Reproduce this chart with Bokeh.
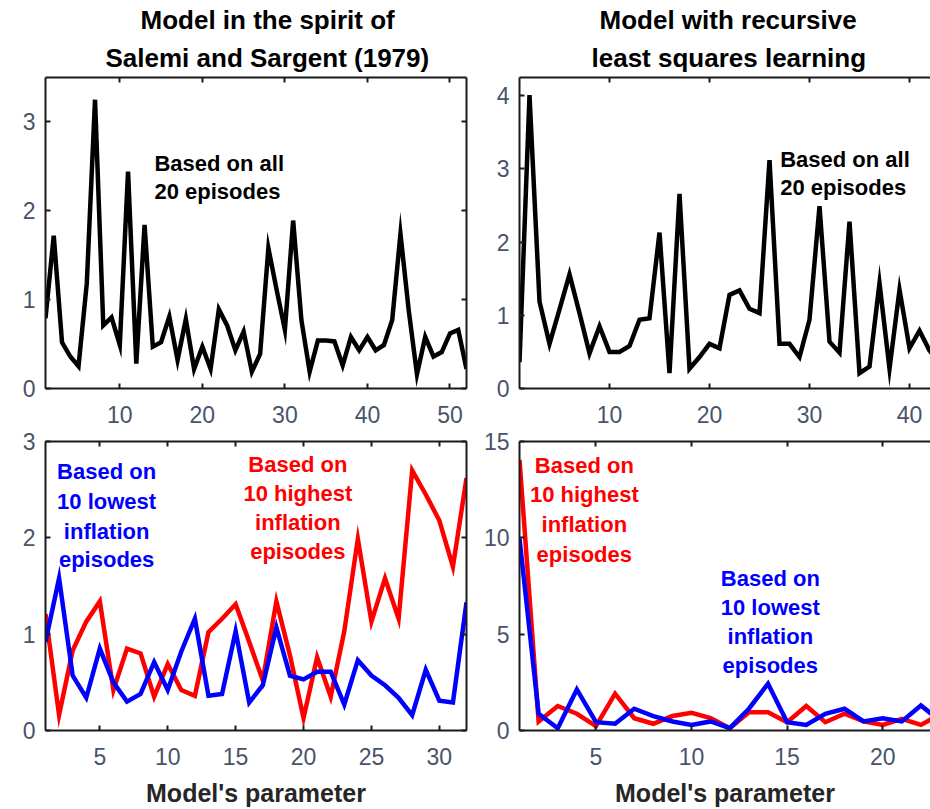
from bokeh.plotting import figure
from bokeh.layouts import column, row
from bokeh.models import Label, LinearAxis, FixedTicker, Range1d, CustomLabelingPolicy, Title
from bokeh.embed import file_html
from bokeh.resources import INLINE

# ---------------- data ----------------
tl_x = list(range(1, 53))
tl_all = [0.79, 1.72, 0.52, 0.36, 0.25, 1.18, 3.25, 0.71, 0.80, 0.49,
          2.44, 0.28, 1.84, 0.47, 0.52, 0.81, 0.32, 0.78, 0.22, 0.47,
          0.22, 0.89, 0.71, 0.43, 0.64, 0.19, 0.39, 1.58, 1.11, 0.66,
          1.89, 0.77, 0.19, 0.54, 0.54, 0.53, 0.26, 0.58, 0.43, 0.58,
          0.43, 0.49, 0.77, 1.74, 0.88, 0.16, 0.58, 0.36, 0.41, 0.62,
          0.66, 0.22]

tr_x = list(range(1, 44))
tr_all = [0.36, 4.01, 1.19, 0.61, 1.08, 1.56, 1.03, 0.48, 0.85, 0.50,
          0.50, 0.58, 0.94, 0.96, 2.13, 0.21, 2.66, 0.27, 0.43, 0.61,
          0.55, 1.28, 1.34, 1.09, 1.03, 3.12, 0.61, 0.61, 0.43, 0.94,
          2.49, 0.64, 0.49, 2.28, 0.21, 0.30, 1.44, 0.27, 1.35, 0.55,
          0.79, 0.52, 0.35]

bl_x = list(range(1, 33))
bl_high = [1.21, 0.16, 0.83, 1.13, 1.34, 0.42, 0.85, 0.80, 0.35, 0.69,
           0.42, 0.36, 1.02, 1.16, 1.31, 0.92, 0.52, 1.34, 0.78, 0.13,
           0.76, 0.35, 1.03, 1.99, 1.13, 1.58, 1.16, 2.70, 2.45, 2.18,
           1.70, 2.62]
bl_low = [0.92, 1.58, 0.57, 0.34, 0.85, 0.50, 0.30, 0.38, 0.71, 0.42,
          0.82, 1.16, 0.36, 0.38, 1.03, 0.29, 0.47, 1.07, 0.57, 0.53,
          0.61, 0.61, 0.27, 0.73, 0.57, 0.47, 0.34, 0.16, 0.63, 0.31,
          0.29, 1.33]

br_x = list(range(1, 24))
br_high = [14.05, 0.47, 1.27, 0.87, 0.23, 1.91, 0.64, 0.35, 0.75, 0.92,
           0.64, 0.12, 0.95, 0.95, 0.43, 1.27, 0.43, 0.87, 0.47, 0.29,
           0.61, 0.29, 0.85]
br_low = [9.97, 0.87, 0.12, 2.13, 0.43, 0.35, 1.13, 0.75, 0.47, 0.29,
          0.47, 0.12, 1.13, 2.43, 0.43, 0.29, 0.87, 1.13, 0.47, 0.64,
          0.47, 1.30, 0.50]

title_left = ["Model in the spirit of", "Salemi and Sargent (1979)"]
title_right = ["Model with recursive", "least squares learning"]
note_all = ["Based on all", "20 episodes"]
note_high = ["Based on", "10 highest", "inflation", "episodes"]
note_low = ["Based on", "10 lowest", "inflation", "episodes"]
x_label = "Model's parameter"

tl_xticks = [10, 20, 30, 40, 50]
tl_yticks = [0, 1, 2, 3]
tr_xticks = [10, 20, 30, 40]
tr_yticks = [0, 1, 2, 3, 4]
bl_xticks = [5, 10, 15, 20, 25, 30]
bl_yticks = [0, 1, 2, 3]
br_xticks = [5, 10, 15, 20]
br_yticks = [0, 5, 10, 15]

# ---------------- style ----------------
FONT = "Liberation Sans"
TICK_COLOR = "#48536a"
AX_COLOR = "#1a1a1a"
RED = "#ff0000"
BLUE = "#0000ff"
LW = 4.5


def make_fig(w, h, xr, yr, xticks, yticks, bl, br, bt, bb, right_axis, xstandoff, xlab=None):
    p = figure(width=w, height=h, x_range=Range1d(*xr), y_range=Range1d(*yr),
               output_backend="svg", toolbar_location=None, title=None,
               min_border_left=bl, min_border_right=br,
               min_border_top=bt, min_border_bottom=bb)
    p.outline_line_color = None
    p.xgrid.visible = False
    p.ygrid.visible = False
    p.background_fill_color = "white"
    p.border_fill_color = "white"
    for ax in (p.xaxis[0], p.yaxis[0]):
        ax.axis_line_width = 2
        ax.axis_line_color = AX_COLOR
        ax.major_tick_in = 5
        ax.major_tick_out = 0
        ax.major_tick_line_width = 2
        ax.major_tick_line_color = AX_COLOR
        ax.minor_tick_line_color = None
        ax.major_label_text_font = FONT
        ax.major_label_text_font_size = "23px"
        ax.major_label_text_color = TICK_COLOR
    p.xaxis[0].ticker = FixedTicker(ticks=xticks)
    p.yaxis[0].ticker = FixedTicker(ticks=yticks)
    p.xaxis[0].major_label_standoff = xstandoff
    p.yaxis[0].major_label_standoff = 10
    if xlab:
        p.xaxis[0].axis_label = xlab
        p.xaxis[0].axis_label_text_font = FONT
        p.xaxis[0].axis_label_text_font_style = "bold"
        p.xaxis[0].axis_label_text_font_size = "25px"
        p.xaxis[0].axis_label_text_color = "#262626"
        p.xaxis[0].axis_label_standoff = 11
    extra = [("above", xticks)]
    if right_axis:
        extra.append(("right", yticks))
    for side, ticks in extra:
        ax = LinearAxis(ticker=FixedTicker(ticks=ticks),
                        major_label_policy=CustomLabelingPolicy(code="return []"),
                        major_label_text_font_size="0px",
                        major_label_standoff=0,
                        major_tick_in=5, major_tick_out=0,
                        major_tick_line_width=2, major_tick_line_color=AX_COLOR,
                        minor_tick_line_color=None,
                        axis_line_width=2, axis_line_color=AX_COLOR)
        p.add_layout(ax, side)
    return p


def add_titles(p, lines, offsets):
    # later-added titles sit further from the frame, so add the second line first
    for txt, off, so in reversed(list(zip(lines, offsets, (2, 10)))):
        p.add_layout(Title(text=txt, align="left", offset=off,
                           text_font=FONT, text_font_style="bold",
                           text_font_size="26px", text_color="black",
                           standoff=so), "above")


def add_note(p, lines, x, ys, color, align):
    for txt, y in zip(lines, ys):
        p.add_layout(Label(x=x, y=y, text=txt, text_align=align,
                           text_baseline="middle", text_font=FONT,
                           text_font_style="bold", text_font_size="22px",
                           text_color=color))


tl = make_fig(476, 428, (1, 52), (0, 3.5), tl_xticks, tl_yticks, 45, 10, 77, 40, True, 17)
tl.line(tl_x, tl_all, line_color="black", line_width=LW, line_join="miter")
add_titles(tl, title_left, (95, 60))
add_note(tl, note_all, 14.2, [2.53, 2.22], "black", "left")

tr = make_fig(454, 428, (1, 42.1), (0, 4.25), tr_xticks, tr_yticks, 43, 0, 77, 40, False, 17)
tr.line(tr_x, tr_all, line_color="black", line_width=LW, line_join="miter")
add_titles(tr, title_right, (80, 72))
add_note(tr, note_all, 27.07, [3.13, 2.75], "black", "left")

bl = make_fig(476, 381, (1, 32), (0, 3), bl_xticks, bl_yticks, 45, 10, 13, 77, True, 17, x_label)
bl.line(bl_x, bl_high, line_color=RED, line_width=LW, line_join="miter")
bl.line(bl_x, bl_low, line_color=BLUE, line_width=LW, line_join="miter")
add_note(bl, note_low, 5.5, [2.69, 2.38, 2.07, 1.78], BLUE, "center")
add_note(bl, note_high, 19.58, [2.76, 2.46, 2.16, 1.86], RED, "center")

br = make_fig(454, 381, (1, 22.5), (0, 15), br_xticks, br_yticks, 43, 0, 13, 77, False, 17, x_label)
br.line(br_x, br_high, line_color=RED, line_width=LW, line_join="miter")
br.line(br_x, br_low, line_color=BLUE, line_width=LW, line_join="miter")
add_note(br, note_high, 4.39, [13.75, 12.25, 10.69, 9.14], RED, "center")
add_note(br, note_low, 14.12, [7.9, 6.4, 4.9, 3.35], BLUE, "center")

layout = column(row(tl, tr), row(bl, br))

open("out.html", "w").write(file_html(layout, INLINE))
